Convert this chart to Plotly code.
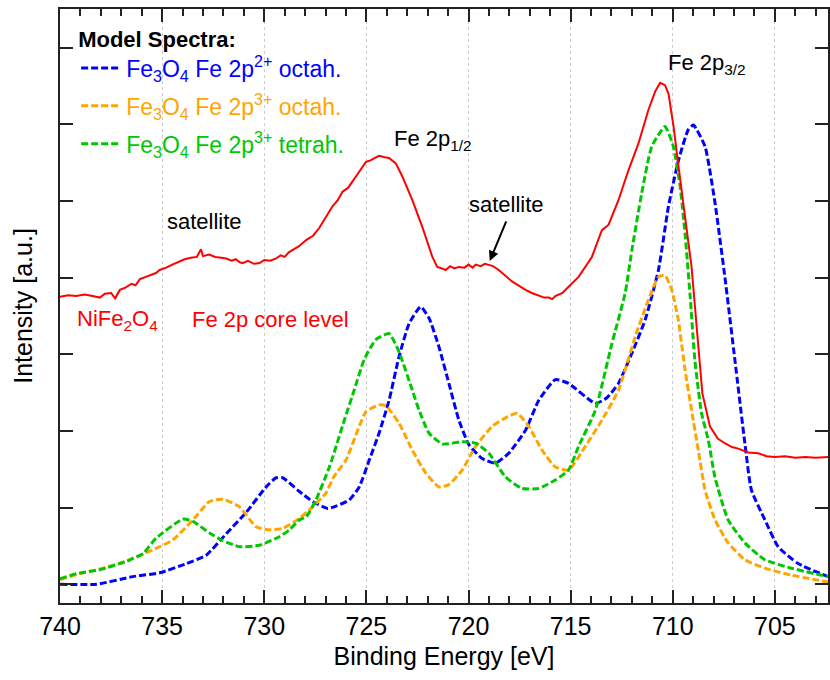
import plotly.graph_objects as go

# ---- data (binding energy in eV, intensity in arbitrary units) ----
red_ev = [740.0, 739.6, 739.2, 738.8, 738.4, 738.05, 737.8, 737.5, 737.3, 737.07,
          736.8, 736.5, 736.3, 736.09, 735.8, 735.5, 735.3, 735.12, 734.8, 734.5,
          734.2, 733.9, 733.6, 733.3, 733.1, 733.0, 732.7, 732.4, 732.1, 731.86,
          731.6, 731.4, 731.2, 731.06, 730.8, 730.5, 730.23, 730.0, 729.7, 729.42,
          729.2, 729.0, 728.8, 728.61, 728.3, 727.95, 727.6, 727.30, 727.0, 726.66,
          726.4, 726.17, 725.9, 725.68, 725.3, 725.02, 724.8, 724.6, 724.38, 724.1,
          723.89, 723.56, 723.24, 722.75, 722.26, 721.77, 721.53, 721.3, 721.12, 720.9,
          720.7, 720.47, 720.2, 720.0, 719.8, 719.65, 719.4, 719.2, 719.0, 718.8,
          718.52, 718.2, 717.87, 717.5, 717.21, 716.9, 716.56, 716.3, 716.07, 715.9,
          715.75, 715.59, 715.4, 715.10, 714.61, 713.96, 713.47, 713.14, 712.66, 712.17,
          711.68, 711.19, 710.86, 710.62, 710.38, 710.21, 709.96, 709.72, 709.32, 709.08,
          708.83, 708.55, 708.18, 707.8, 707.45, 707.1, 706.8, 706.3, 705.82, 705.4,
          705.01, 704.5, 704.0, 703.5, 703.0, 702.4]
red_i = [3.75, 3.77, 3.76, 3.78, 3.76, 3.74, 3.79, 3.80, 3.73, 3.84,
         3.87, 3.92, 3.90, 3.98, 4.01, 4.04, 4.06, 4.10, 4.13, 4.17,
         4.21, 4.24, 4.26, 4.27, 4.37, 4.28, 4.30, 4.27, 4.26, 4.25,
         4.22, 4.24, 4.20, 4.19, 4.22, 4.18, 4.19, 4.23, 4.22, 4.25,
         4.29, 4.27, 4.33, 4.36, 4.41, 4.49, 4.55, 4.65, 4.78, 4.93,
         5.01, 5.12, 5.17, 5.25, 5.40, 5.51, 5.53, 5.56, 5.59, 5.57,
         5.56, 5.49, 5.32, 5.01, 4.66, 4.27, 4.14, 4.12, 4.10, 4.15,
         4.12, 4.14, 4.13, 4.17, 4.13, 4.17, 4.15, 4.18, 4.17, 4.15,
         4.10, 4.03, 3.95, 3.89, 3.84, 3.80, 3.77, 3.74, 3.74, 3.72,
         3.76, 3.78, 3.80, 3.88, 4.01, 4.27, 4.62, 4.69, 5.01, 5.40,
         5.75, 6.19, 6.43, 6.54, 6.51, 6.40, 5.97, 5.45, 4.66, 4.14,
         3.36, 2.49, 2.06, 1.90, 1.84, 1.79, 1.77, 1.72, 1.71, 1.67,
         1.66, 1.67, 1.65, 1.66, 1.65, 1.66]

blue_ev = [740.0, 738.21, 736.44, 735.12, 733.81, 732.84, 731.86, 730.88, 729.91, 729.42, 729.10, 728.28,
           727.63, 726.90, 726.49, 725.84, 725.35, 724.86, 724.38, 723.89, 723.40, 722.91, 722.34, 721.93,
           721.45, 720.96, 720.47, 719.98, 719.33, 718.68, 718.03, 717.21, 716.56, 715.75, 715.10, 713.79,
           713.24, 712.66, 712.01, 711.35, 710.70, 710.21, 709.72, 709.24, 708.99, 708.42, 707.93, 707.45,
           706.96, 706.47, 706.15, 705.49, 704.84, 703.86, 702.40]
blue_i = [0.00, 0.00, 0.10, 0.15, 0.27, 0.38, 0.66, 0.94, 1.27, 1.39, 1.39, 1.21,
          1.08, 0.99, 1.02, 1.10, 1.27, 1.62, 1.97, 2.40, 2.97, 3.40, 3.62, 3.47,
          3.10, 2.62, 2.14, 1.82, 1.64, 1.58, 1.71, 2.01, 2.40, 2.67, 2.62, 2.36,
          2.43, 2.62, 3.01, 3.45, 4.10, 4.93, 5.53, 5.93, 5.99, 5.71, 4.97, 4.01,
          2.93, 1.84, 1.23, 0.84, 0.49, 0.27, 0.10]

orange_ev = [740.0, 739.02, 737.89, 736.58, 735.44, 734.47, 733.49, 732.68, 732.03, 731.21, 730.40, 729.75,
             729.10, 728.28, 727.63, 726.98, 726.60, 726.00, 725.02, 724.38, 724.05, 723.40, 722.75, 722.09,
             721.45, 720.96, 720.31, 719.65, 718.84, 718.19, 717.62, 717.05, 716.40, 715.75, 715.10, 714.28,
             713.47, 712.66, 711.84, 711.19, 710.70, 710.38, 710.05, 709.73, 709.40, 709.08, 708.75, 708.42,
             707.93, 707.29, 706.47, 705.49, 704.20, 702.40]
orange_i = [0.06, 0.14, 0.21, 0.32, 0.45, 0.58, 0.84, 1.08, 1.11, 1.01, 0.75, 0.71,
            0.73, 0.86, 1.01, 1.19, 1.40, 1.62, 2.25, 2.34, 2.33, 2.10, 1.75, 1.45,
            1.27, 1.30, 1.49, 1.80, 2.06, 2.17, 2.23, 2.06, 1.75, 1.53, 1.49, 1.80,
            2.14, 2.53, 3.23, 3.71, 4.01, 4.03, 3.84, 3.45, 2.80, 2.27, 1.75, 1.23,
            0.84, 0.54, 0.32, 0.21, 0.12, 0.03]

green_ev = [740.0, 739.18, 738.05, 736.74, 736.42, 735.93, 735.30, 733.98, 733.49, 732.68, 732.03, 731.21,
            730.23, 729.26, 728.77, 728.28, 727.95, 727.47, 726.81, 726.08, 725.60, 725.11, 724.54, 723.89,
            723.40, 722.75, 722.42, 721.93, 721.28, 720.31, 719.65, 719.00, 718.19, 717.38, 716.56, 715.75,
            715.10, 714.61, 713.79, 712.98, 712.33, 712.00, 711.52, 711.03, 710.38, 709.97, 709.64, 709.40,
            709.16, 708.92, 708.59, 708.26, 707.93, 707.29, 706.47, 705.49, 704.20, 702.40]
green_i = [0.07, 0.14, 0.19, 0.30, 0.34, 0.40, 0.60, 0.85, 0.82, 0.67, 0.57, 0.49,
           0.51, 0.62, 0.71, 0.84, 0.88, 1.10, 1.53, 2.14, 2.53, 2.93, 3.19, 3.27,
           3.03, 2.53, 2.27, 1.97, 1.83, 1.86, 1.84, 1.71, 1.40, 1.25, 1.25, 1.36,
           1.49, 1.80, 2.27, 3.14, 3.80, 4.36, 5.10, 5.71, 5.97, 5.71, 5.19, 4.58,
           3.80, 2.93, 2.23, 1.88, 1.39, 0.84, 0.54, 0.32, 0.21, 0.10]

x_ticks = [740, 735, 730, 725, 720, 715, 710, 705]
y_ticks = [0, 1, 2, 3, 4, 5, 6, 7]

BLUE = "#0000FF"
ORANGE = "#FFA500"
GREEN = "#00C800"
RED = "#FF0000"
FONT = "Liberation Sans, Arial, sans-serif"
AX = "#222222"

def model_name(sup, kind, color):
    return (f"<span style='color:{color}'>Fe<sub>3</sub>O<sub>4</sub> Fe 2p<sup>{sup}</sup> {kind}</span>")

fig = go.Figure()
for k, (ev, inten, col, sup, kind) in enumerate([
    (blue_ev, blue_i, BLUE, "2+", "octah."),
    (orange_ev, orange_i, ORANGE, "3+", "octah."),
    (green_ev, green_i, GREEN, "3+", "tetrah."),
]):
    fig.add_trace(go.Scatter(x=ev, y=inten, mode="lines",
                             line=dict(color=col, width=3, dash="7px,3px", shape="spline", smoothing=0.5),
                             name=model_name(sup, kind, col), legendgroup=f"g{k}"))

fig.add_trace(go.Scatter(x=red_ev, y=red_i, mode="lines", line=dict(color=RED, width=2),
                         showlegend=False, name="NiFe2O4"))

axis_common = dict(showline=True, linecolor=AX, linewidth=2, mirror="ticks", ticks="inside",
                   tickcolor=AX, tickwidth=1.5, ticklen=13, zeroline=False)

fig.update_layout(
    width=830, height=680,
    margin=dict(l=60, r=0, t=9, b=77),
    paper_bgcolor="white", plot_bgcolor="white",
    font=dict(family=FONT, size=25, color="black"),
    xaxis=dict(range=[740, 702.4], tickvals=x_ticks, ticktext=[str(v) for v in x_ticks],
               showgrid=True, gridcolor="#cccccc", griddash="dot", gridwidth=1,
               minor=dict(dtick=1, ticks="inside", ticklen=7, tickcolor=AX, tickwidth=1.5, showgrid=False),
               tickfont=dict(size=25),
               title=dict(text="Binding Energy [eV]", font=dict(size=25), standoff=8),
               **axis_common),
    yaxis=dict(range=[-0.244, 7.504], tickvals=y_ticks, showticklabels=False, showgrid=False,
               title=dict(text="Intensity [a.u.]", font=dict(size=25), standoff=18),
               **axis_common),
    legend=dict(x=0.021, y=0.985, xanchor="left", yanchor="top", bgcolor="rgba(0,0,0,0)",
                title=dict(text="<b>Model Spectra:</b>", font=dict(size=22, color="black")),
                font=dict(size=23), tracegroupgap=5, itemwidth=40),
)

ann_font = dict(family=FONT, size=22, color="black")
fig.add_annotation(x=710.31, y=6.79, text="Fe 2p<sub>3/2</sub>", showarrow=False,
                   xanchor="left", yanchor="middle", font=ann_font)
fig.add_annotation(x=723.76, y=5.80, text="Fe 2p<sub>1/2</sub>", showarrow=False,
                   xanchor="left", yanchor="middle", font=ann_font)
fig.add_annotation(x=734.87, y=4.73, text="satellite", showarrow=False,
                   xanchor="left", yanchor="middle", font=ann_font)
fig.add_annotation(x=720.09, y=4.95, text="satellite", showarrow=False,
                   xanchor="left", yanchor="middle", font=ann_font)
fig.add_annotation(x=718.96, y=4.217, ax=718.125, ay=4.752, axref="x", ayref="y", text="",
                   showarrow=True, arrowhead=2, arrowsize=1, arrowwidth=2, arrowcolor="black")
red_font = dict(family=FONT, size=22, color=RED)
fig.add_annotation(x=739.27, y=3.45, text="NiFe<sub>2</sub>O<sub>4</sub>", showarrow=False,
                   xanchor="left", yanchor="middle", font=red_font)
fig.add_annotation(x=733.65, y=3.45, text="Fe 2p core level", showarrow=False,
                   xanchor="left", yanchor="middle", font=red_font)

fig.write_html("out.html")
